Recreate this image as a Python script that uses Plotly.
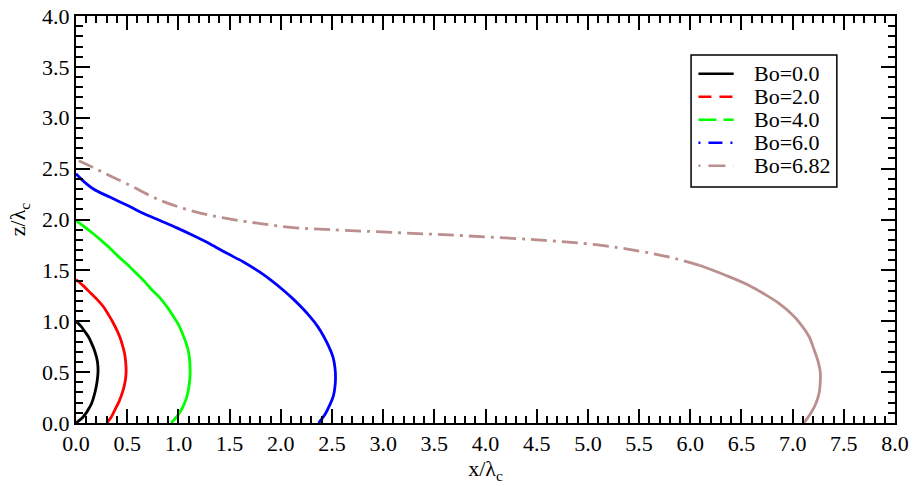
import plotly.graph_objects as go

# Profile shapes z(x) for different Bond numbers, x and z scaled by capillary length
bo_labels = ["Bo=0.0", "Bo=2.0", "Bo=4.0", "Bo=6.0", "Bo=6.82"]

x_bo0 = [0.0, 0.06, 0.10, 0.13, 0.155, 0.185, 0.205, 0.215, 0.21, 0.185, 0.145, 0.12, 0.085, 0.05, 0.0]
z_bo0 = [0.0, 0.05, 0.10, 0.15, 0.20, 0.30, 0.40, 0.50, 0.60, 0.70, 0.80, 0.85, 0.90, 0.95, 1.0]

x_bo2 = [0.30, 0.345, 0.38, 0.42, 0.45, 0.47, 0.485, 0.49, 0.485, 0.475, 0.455, 0.43, 0.40,
         0.36, 0.32, 0.27, 0.21, 0.15, 0.08, 0.0]
z_bo2 = [0.0, 0.06, 0.13, 0.21, 0.29, 0.36, 0.44, 0.52, 0.60, 0.68, 0.76, 0.84, 0.91,
         0.99, 1.06, 1.14, 1.21, 1.27, 1.34, 1.41]

x_bo4 = [0.93, 0.99, 1.04, 1.08, 1.10, 1.113, 1.115, 1.11, 1.095, 1.07, 1.04, 1.00, 0.95,
         0.89, 0.82, 0.74, 0.66, 0.58, 0.50, 0.41, 0.33, 0.25, 0.17, 0.08, 0.0]
z_bo4 = [0.0, 0.07, 0.15, 0.25, 0.34, 0.44, 0.52, 0.62, 0.72, 0.80, 0.88, 0.97, 1.05,
         1.14, 1.23, 1.31, 1.40, 1.48, 1.56, 1.64, 1.72, 1.79, 1.86, 1.93, 1.99]

x_bo6 = [2.37, 2.43, 2.48, 2.515, 2.53, 2.535, 2.53, 2.51, 2.47, 2.42, 2.36, 2.29, 2.21,
         2.12, 2.02, 1.91, 1.80, 1.64, 1.47, 1.31, 1.15, 0.98, 0.82, 0.66, 0.50, 0.33,
         0.17, 0.08, 0.0]
z_bo6 = [0.0, 0.08, 0.18, 0.27, 0.36, 0.45, 0.54, 0.65, 0.75, 0.85, 0.95, 1.04, 1.13,
         1.22, 1.31, 1.40, 1.48, 1.58, 1.67, 1.76, 1.84, 1.92, 1.99, 2.06, 2.14, 2.22,
         2.30, 2.37, 2.45]

x_bo682 = [7.11, 7.18, 7.23, 7.26, 7.27, 7.27, 7.25, 7.21, 7.16, 7.08, 6.98, 6.86, 6.72,
           6.58, 6.35, 6.09, 5.80, 5.50, 5.10, 4.50, 3.80, 3.16, 2.48, 2.12, 1.80, 1.47,
           1.15, 0.82, 0.50, 0.33, 0.17, 0.0]
z_bo682 = [0.0, 0.10, 0.20, 0.30, 0.40, 0.50, 0.60, 0.72, 0.85, 0.97, 1.08, 1.18, 1.27,
           1.35, 1.45, 1.55, 1.63, 1.69, 1.75, 1.80, 1.84, 1.87, 1.90, 1.92, 1.96, 2.01,
           2.08, 2.19, 2.35, 2.43, 2.51, 2.59]

colors = ["#000000", "#ff0000", "#00ff00", "#0000ff", "#bc8f8f"]
legend_dash = ["solid", "13px,8px", "18px,7px", "2px,8px,14px,8px", "2px,8px,17px,8px"]

FONT = "Liberation Serif"
LW = 2.8

fig = go.Figure()

curves = [(x_bo0, z_bo0), (x_bo2, z_bo2), (x_bo4, z_bo4), (x_bo6, z_bo6)]
for (xs, zs), c, name in zip(curves, colors[:4], bo_labels[:4]):
    fig.add_trace(go.Scatter(x=xs, y=zs, mode="lines", name=name, showlegend=False,
                             line=dict(color=c, width=LW, shape="spline", smoothing=1.0)))

# Bo=6.82: densely sampled bulge looks solid, the flat part shows its dash pattern
split = 15
fig.add_trace(go.Scatter(x=x_bo682[:split + 1], y=z_bo682[:split + 1], mode="lines",
                         name=bo_labels[4], showlegend=False,
                         line=dict(color=colors[4], width=LW, shape="spline", smoothing=1.0)))
fig.add_trace(go.Scatter(x=x_bo682[split:], y=z_bo682[split:], mode="lines",
                         name=bo_labels[4], showlegend=False,
                         line=dict(color=colors[4], width=LW, shape="spline", smoothing=1.0,
                                   dash="16px,6px,3px,6px")))

# Boxed key in the upper right: line samples with their dash styles and labels
key_left, key_right, key_top, key_bottom = 0.751, 0.929, 0.904, 0.580
row_top, row_step = 0.858, 0.0565
fig.add_shape(type="rect", xref="paper", yref="paper",
              x0=key_left, x1=key_right, y0=key_bottom, y1=key_top,
              line=dict(color="black", width=1.5), fillcolor="white", layer="above")
for i, (name, c, d) in enumerate(zip(bo_labels, colors, legend_dash)):
    yy = row_top - i * row_step
    fig.add_shape(type="line", xref="paper", yref="paper",
                  x0=key_left + 0.009, x1=key_left + 0.052, y0=yy, y1=yy,
                  line=dict(color=c, width=2.5, dash=d), layer="above")
    fig.add_annotation(xref="paper", yref="paper", x=key_left + 0.074, y=yy,
                       xanchor="left", yanchor="middle", text=name, showarrow=False,
                       font=dict(family=FONT, size=22, color="black"))

axis_common = dict(
    showline=True, linecolor="black", linewidth=2, mirror="allticks",
    ticks="inside", ticklen=14, tickwidth=1.5, tickcolor="black",
    dtick=0.5, tick0=0, tickformat=".1f", showgrid=False, zeroline=False,
    automargin=False,
    minor=dict(ticks="inside", ticklen=7, tickwidth=1.5, tickcolor="black",
               dtick=0.1, showgrid=False),
)

fig.update_xaxes(range=[0, 8], **axis_common,
                 tickfont=dict(family=FONT, size=22, color="black"),
                 title=dict(text="x/λ<sub>c</sub>", standoff=0,
                            font=dict(family=FONT, size=22, color="black")))
fig.update_yaxes(range=[0, 4], **axis_common,
                 tickfont=dict(family=FONT, size=22, color="black"),
                 title=dict(text="z/λ<sub>c</sub>", standoff=10,
                            font=dict(family=FONT, size=22, color="black")))

fig.update_layout(
    width=912, height=484,
    margin=dict(l=76, r=17, t=16, b=61),
    font=dict(family=FONT, size=22, color="black"),
    paper_bgcolor="white", plot_bgcolor="white",
    showlegend=False,
)

fig.write_html("out.html")
